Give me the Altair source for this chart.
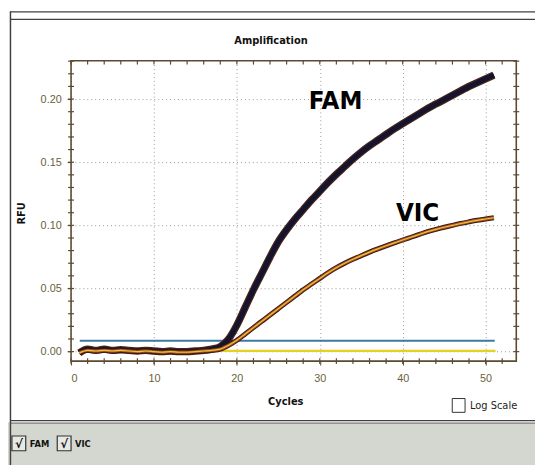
import altair as alt
import pandas as pd

# ---------------- data ----------------
cycles = list(range(1, 52))
fam = [-0.001, 0.002, 0.001, 0.002, 0.001, 0.0015, 0.001, 0.0005, 0.001, 0.0005,
       0.0, 0.0005, 0.0, 0.0, 0.0005, 0.001, 0.002, 0.004, 0.010, 0.021,
       0.035, 0.049, 0.062, 0.075, 0.087, 0.0965, 0.105, 0.1125, 0.120, 0.127,
       0.134, 0.1405, 0.1465, 0.1525, 0.158, 0.163, 0.1675, 0.172, 0.1765, 0.1805,
       0.1845, 0.1885, 0.1925, 0.196, 0.1995, 0.203, 0.2065, 0.210, 0.213, 0.216, 0.219]
vic = [-0.001, 0.001, 0.0005, 0.001, 0.0005, 0.001, 0.0005, 0.0, 0.0005, 0.0,
       -0.0005, 0.0, -0.0005, -0.0005, 0.0, 0.0005, 0.001, 0.002, 0.005, 0.009,
       0.014, 0.019, 0.024, 0.029, 0.034, 0.039, 0.044, 0.049, 0.0535, 0.058,
       0.0625, 0.0665, 0.0700, 0.0731, 0.0760, 0.0788, 0.0814, 0.0838, 0.0861, 0.0884,
       0.0906, 0.0928, 0.0950, 0.0968, 0.0985, 0.1000, 0.1015, 0.1028, 0.1040, 0.1050, 0.1060]
threshold_fam = 0.0086
threshold_vic = 0.0006
threshold_start = [1.05, 1.05]
threshold_end = [51.1, 51.2]

x_major = [0, 10, 20, 30, 40, 50]
x_minor = list(range(0, 54, 2))
y_major = [0.00, 0.05, 0.10, 0.15, 0.20]
y_minor = [round(v * 0.01, 2) for v in range(0, 24)]

labels = ["FAM", "VIC"]
label_x = [31.9, 41.8]
label_y = [0.198, 0.110]

X_DOM = [0, 53.7]
Y_DOM = [-0.0075, 0.2304]
W, H = 452, 305

xs = alt.Scale(domain=X_DOM, nice=False, zero=False)
ys = alt.Scale(domain=Y_DOM, nice=False, zero=False)

curves = pd.DataFrame({"cycle": cycles, "FAM": fam, "VIC": vic})
thr = pd.DataFrame({"x": threshold_start, "x2": threshold_end,
                    "y": [threshold_fam, threshold_vic],
                    "c": ["blue", "yellow"]})
xmin_df = pd.DataFrame({"x": x_minor})
ymin_df = pd.DataFrame({"y": y_minor})
lab_df = pd.DataFrame({"t": labels, "x": label_x, "y": label_y})
one = pd.DataFrame({"a": [0]})

AX = "#5c4a30"
LBL = "#6b5f3a"
LEFT, TOP = 64, 50   # plot-area offset inside the svg (svg at page 8,8)

def rx(page_x):
    return page_x - 8 - LEFT

def ry(page_y):
    return page_y - 8 - TOP

# -------------- window decoration --------------
panel = alt.Chart(one).mark_rect(color="#d3d7cf").encode(
    x=alt.value(rx(0)), x2=alt.value(rx(560)), y=alt.value(ry(425)), y2=alt.value(ry(480)))
sep1 = alt.Chart(one).mark_rule(color="#404040", strokeWidth=1.2).encode(
    x=alt.value(rx(10)), x2=alt.value(rx(560)), y=alt.value(ry(423.5)))
sep2 = alt.Chart(one).mark_rule(color="#707070", strokeWidth=1).encode(
    x=alt.value(rx(10)), x2=alt.value(rx(560)), y=alt.value(ry(426)))
top1 = alt.Chart(one).mark_rule(color="#404040", strokeWidth=1.2).encode(
    x=alt.value(rx(10)), x2=alt.value(rx(560)), y=alt.value(ry(8.5)))
top2 = alt.Chart(one).mark_rule(color="#404040", strokeWidth=1.2).encode(
    x=alt.value(rx(10)), x2=alt.value(rx(560)), y=alt.value(ry(16)))
left1 = alt.Chart(one).mark_rule(color="#404040", strokeWidth=1.5).encode(
    x=alt.value(rx(10.5)), y=alt.value(ry(8)), y2=alt.value(ry(480)))

title = alt.Chart(one).mark_text(font="DejaVu Sans", fontWeight="bold", fontSize=10,
                                 color="#111").encode(
    x=alt.value(rx(275)), y=alt.value(ry(38)), text=alt.value("Amplification"))
rfu = alt.Chart(one).mark_text(font="DejaVu Sans", fontWeight="bold", fontSize=10,
                               angle=270, color="#111").encode(
    x=alt.value(rx(22)), y=alt.value(ry(213)), text=alt.value("RFU"))
cyc = alt.Chart(one).mark_text(font="DejaVu Sans", fontWeight="bold", fontSize=10,
                               color="#111").encode(
    x=alt.value(rx(290)), y=alt.value(ry(405)), text=alt.value("Cycles"))

logbox = alt.Chart(one).mark_rect(fill="white", stroke="#333", strokeWidth=1).encode(
    x=alt.value(rx(459)), x2=alt.value(rx(472)), y=alt.value(ry(401)), y2=alt.value(ry(415)))
logtxt = alt.Chart(one).mark_text(font="DejaVu Sans", fontSize=10, align="left",
                                  color="#222").encode(
    x=alt.value(rx(477)), y=alt.value(ry(409)), text=alt.value("Log Scale"))

cb1 = alt.Chart(one).mark_rect(fill="#e8e8e4", stroke="#333", strokeWidth=1.2).encode(
    x=alt.value(rx(12)), x2=alt.value(rx(26)), y=alt.value(ry(439)), y2=alt.value(ry(454)))
cb2 = alt.Chart(one).mark_rect(fill="#e8e8e4", stroke="#333", strokeWidth=1.2).encode(
    x=alt.value(rx(58)), x2=alt.value(rx(72)), y=alt.value(ry(439)), y2=alt.value(ry(454)))
ck1 = alt.Chart(one).mark_text(font="DejaVu Sans", fontWeight="bold", fontSize=12,
                               color="#111").encode(
    x=alt.value(rx(19)), y=alt.value(ry(447)), text=alt.value("√"))
ck2 = alt.Chart(one).mark_text(font="DejaVu Sans", fontWeight="bold", fontSize=12,
                               color="#111").encode(
    x=alt.value(rx(65)), y=alt.value(ry(447)), text=alt.value("√"))
fam_lbl = alt.Chart(one).mark_text(font="DejaVu Sans", fontWeight="bold", fontSize=8.5,
                                   align="left", color="#111").encode(
    x=alt.value(rx(30)), y=alt.value(ry(447)), text=alt.value("FAM"))
vic_lbl = alt.Chart(one).mark_text(font="DejaVu Sans", fontWeight="bold", fontSize=8.5,
                                   align="left", color="#111").encode(
    x=alt.value(rx(76)), y=alt.value(ry(447)), text=alt.value("VIC"))

# -------------- plot --------------
x_axis = alt.Axis(values=x_major, title=None, grid=True, gridDash=[1, 3],
                  gridColor="#999", domain=False, tickSize=4,
                  tickColor=AX, labelColor=LBL, labelFont="Liberation Sans",
                  labelFontSize=11, labelPadding=8, format="d")
y_axis = alt.Axis(values=y_major, title=None, grid=True, gridDash=[1, 3],
                  gridColor="#999", domain=False, tickSize=4,
                  tickColor=AX, labelColor=LBL, labelFont="Liberation Sans",
                  labelFontSize=11, labelPadding=6, format=".2f")

grid_layer = alt.Chart(curves).mark_point(opacity=0).encode(
    x=alt.X("cycle:Q", scale=xs, axis=x_axis),
    y=alt.Y("FAM:Q", scale=ys, axis=y_axis))

thr_layer = alt.Chart(thr).mark_rule(strokeWidth=2.2).encode(
    x=alt.X("x:Q", scale=xs), x2="x2:Q",
    y=alt.Y("y:Q", scale=ys),
    color=alt.Color("c:N", scale=alt.Scale(domain=["blue", "yellow"],
                                           range=["#3d7aa6", "#e6d21e"]), legend=None))

def curve(field, color, width):
    return alt.Chart(curves).mark_line(color=color, strokeWidth=width,
                                       interpolate="monotone").encode(
        x=alt.X("cycle:Q", scale=xs), y=alt.Y(f"{field}:Q", scale=ys))

fam_outer = curve("FAM", "#4a2418", 7.5)
fam_inner = curve("FAM", "#14142e", 5)
vic_outer = curve("VIC", "#3a1a14", 5)
vic_mid = curve("VIC", "#b0502a", 3)
vic_inner = curve("VIC", "#e8c830", 1.2)

# frame and minor ticks
frame = alt.Chart(one).mark_rect(filled=False, stroke=AX, strokeWidth=1.6).encode(
    x=alt.value(0), x2=alt.value(W), y=alt.value(0), y2=alt.value(H))
bot_ticks = alt.Chart(xmin_df).mark_rule(color=AX, strokeWidth=1.2).encode(
    x=alt.X("x:Q", scale=xs), y=alt.value(H - 3), y2=alt.value(H + 3))
top_ticks = alt.Chart(xmin_df).mark_rule(color=AX, strokeWidth=1.2).encode(
    x=alt.X("x:Q", scale=xs), y=alt.value(0), y2=alt.value(4))
left_ticks = alt.Chart(ymin_df).mark_rule(color=AX, strokeWidth=1.2).encode(
    y=alt.Y("y:Q", scale=ys), x=alt.value(-3), x2=alt.value(3))
right_ticks = alt.Chart(ymin_df).mark_rule(color=AX, strokeWidth=1.2).encode(
    y=alt.Y("y:Q", scale=ys), x=alt.value(W - 3), x2=alt.value(W + 3))

ann = alt.Chart(lab_df).mark_text(
    font="'DejaVu Sans Condensed', 'Liberation Sans', sans-serif",
    fontWeight="bold", fontSize=26, color="#000").encode(
    x=alt.X("x:Q", scale=xs), y=alt.Y("y:Q", scale=ys), text="t:N")

chart = alt.layer(
    panel, sep1, sep2, top1, top2, left1,
    grid_layer, thr_layer, fam_outer, fam_inner, vic_outer, vic_mid, vic_inner,
    frame, bot_ticks, top_ticks, left_ticks, right_ticks, ann,
    title, rfu, cyc, logbox, logtxt, cb1, cb2, ck1, ck2, fam_lbl, vic_lbl,
).properties(
    width=W, height=H,
    autosize=alt.AutoSizeParams(type="none"),
    padding={"left": LEFT, "top": TOP, "right": 535 - LEFT - W, "bottom": 457 - TOP - H},
    background="white",
).configure_view(stroke=None)

chart.save("out.html", embed_options={"renderer": "svg", "actions": False})
